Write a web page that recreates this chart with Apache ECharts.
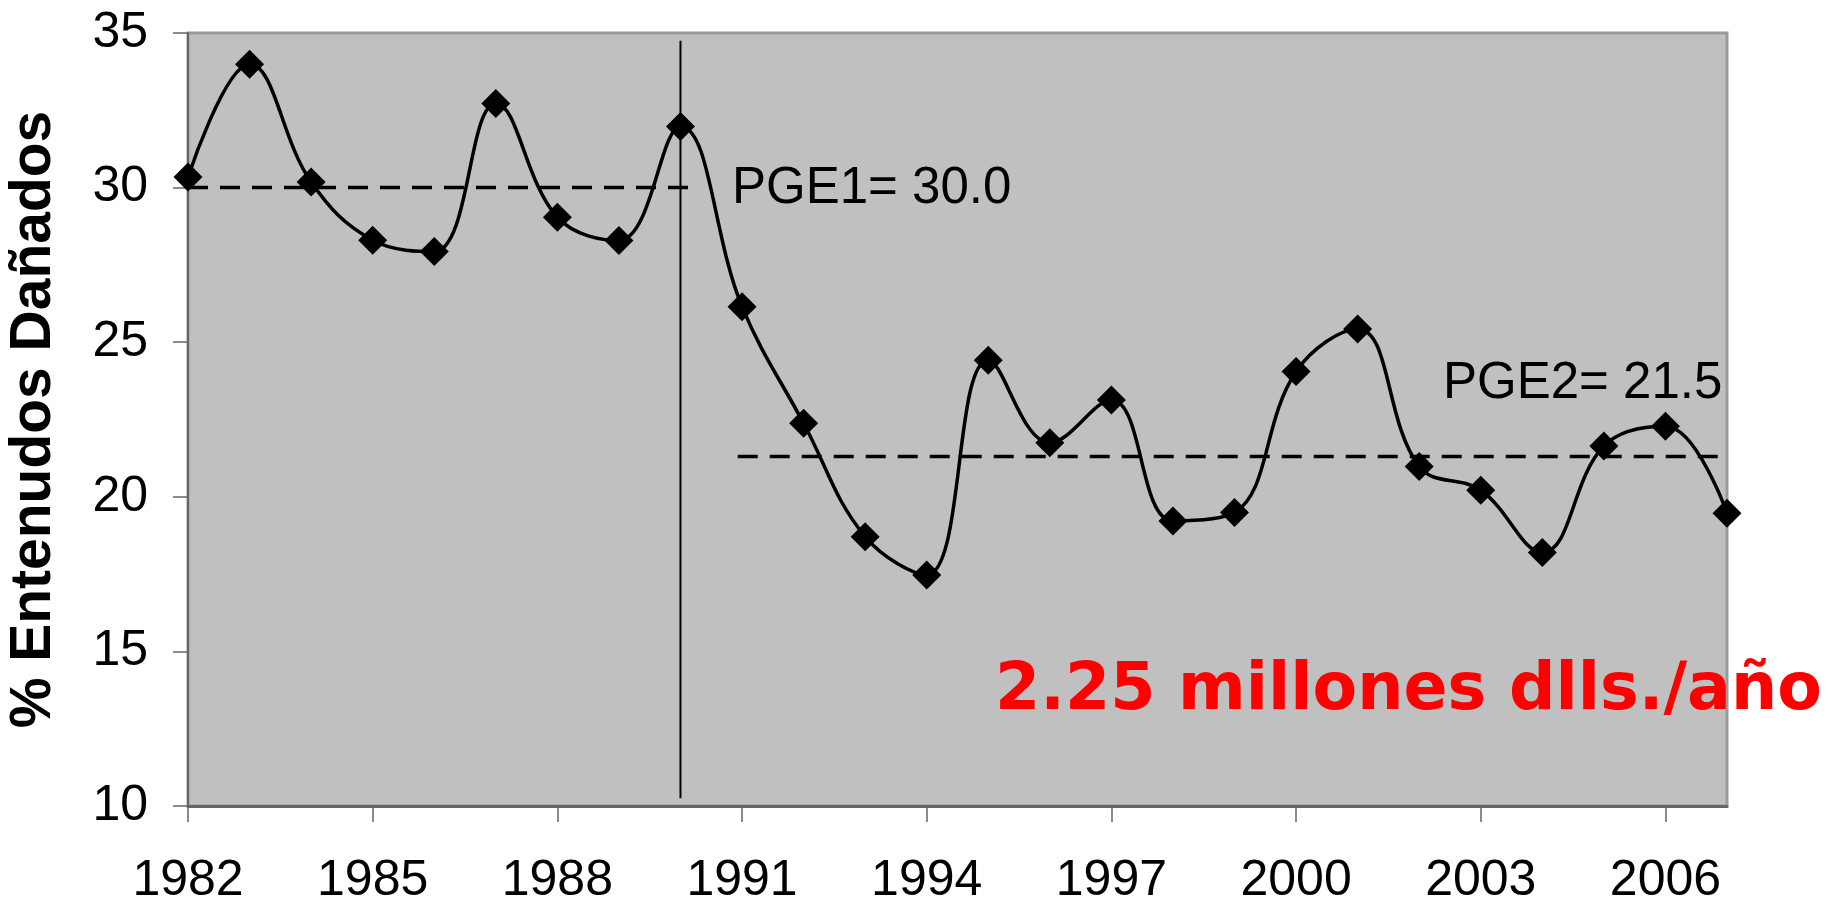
<!DOCTYPE html>
<html>
<head>
<meta charset="utf-8">
<script src="https://cdn.jsdelivr.net/npm/echarts@6/dist/echarts.min.js"></script>
<style>
  html, body { margin: 0; padding: 0; background: #ffffff; }
  #chart { width: 1831px; height: 903px; }
</style>
</head>
<body>
<div id="chart"></div>
<script>
// ---- data ----
const years = [1982,1983,1984,1985,1986,1987,1988,1989,1990,1991,1992,1993,1994,
               1995,1996,1997,1998,1999,2000,2001,2002,2003,2004,2005,2006,2007];
const damagedPct = [30.34,33.99,30.18,28.30,27.93,32.72,29.04,28.29,31.98,26.15,22.38,18.71,17.47,
                    24.42,21.75,23.13,19.22,19.49,24.05,25.43,20.98,20.21,18.20,21.64,22.28,19.47];
const xTickYears = [1982,1985,1988,1991,1994,1997,2000,2003,2006];
const yTickValues = [10,15,20,25,30,35];
const pge1Years = [1982, 1990.17];
const pge1Level = 30.0;
const pge2Years = [1990.93, 2007];
const pge2Level = 21.3;
const breakYear = 1990;
const breakRange = [34.75, 10.25];
const pge1Label = 'PGE1= 30.0';
const pge2Label = 'PGE2= 21.5';
const costLabel = '2.25 millones dlls./año';
const yAxisTitle = '% Entenudos Dañados';

const chart = echarts.init(document.getElementById('chart'), null, { renderer: 'canvas' });
const FONT = '"Liberation Sans", Arial, sans-serif';

const option = {
  animation: false,
  backgroundColor: '#ffffff',
  grid: {
    left: 188, top: 33, right: 104, bottom: 97,
    outerBoundsMode: 'none', containLabel: false,
    show: true, backgroundColor: '#c0c0c0', borderColor: '#9a9a9a', borderWidth: 3
  },
  xAxis: {
    type: 'value', min: years[0], max: years[years.length - 1],
    splitLine: { show: false },
    axisLine: { show: true, onZero: false, lineStyle: { color: '#666666', width: 3 } },
    axisTick: { show: true, length: 16, customValues: xTickYears, lineStyle: { color: '#666666', width: 1.5 } },
    axisLabel: { customValues: xTickYears, margin: 50, fontSize: 50, color: '#000', fontFamily: FONT,
                 formatter: v => String(v) }
  },
  yAxis: {
    type: 'value', min: yTickValues[0], max: yTickValues[yTickValues.length - 1], interval: 5,
    name: yAxisTitle, nameLocation: 'middle', nameGap: 125,
    nameTextStyle: { fontSize: 57, fontWeight: 'bold', color: '#000', fontFamily: FONT },
    splitLine: { show: false },
    axisLine: { show: true, lineStyle: { color: '#555555', width: 1.5 } },
    axisTick: { show: true, length: 15, lineStyle: { color: '#666666', width: 1.5 } },
    axisLabel: { margin: 40, fontSize: 50, color: '#000', fontFamily: FONT }
  },
  series: [
    {
      type: 'line', name: 'pge1', data: pge1Years.map(x => [x, pge1Level]),
      symbol: 'none', lineStyle: { color: '#000', width: 3.5, type: [20, 12] }, z: 2, silent: true
    },
    {
      type: 'line', name: 'pge2', data: pge2Years.map(x => [x, pge2Level]),
      symbol: 'none', lineStyle: { color: '#000', width: 3.5, type: [20, 12] }, z: 2, silent: true
    },
    {
      type: 'line', name: 'break', data: breakRange.map(v => [breakYear, v]),
      symbol: 'none', lineStyle: { color: '#000', width: 2 }, z: 2, silent: true
    },
    {
      type: 'line', name: 'damaged', data: years.map((y, i) => [y, damagedPct[i]]),
      smooth: 0.4, symbol: 'diamond', symbolSize: 29, showAllSymbol: true,
      lineStyle: { color: '#000', width: 3.5 }, itemStyle: { color: '#000' }, z: 3
    }
  ],
  graphic: [
    { type: 'text', left: 732, top: 163, z: 10,
      style: { text: pge1Label, fontSize: 51, fontFamily: FONT, fill: '#000' } },
    { type: 'text', left: 1443, top: 358, z: 10,
      style: { text: pge2Label, fontSize: 51, fontFamily: FONT, fill: '#000' } },
    { type: 'text', left: 995, top: 660, z: 10,
      style: { text: costLabel, fontSize: 65, fontWeight: 'bold', fontFamily: '"DejaVu Sans", Verdana, sans-serif', fill: '#ff0000' } }
  ]
};
chart.setOption(option);
</script>
</body>
</html>
